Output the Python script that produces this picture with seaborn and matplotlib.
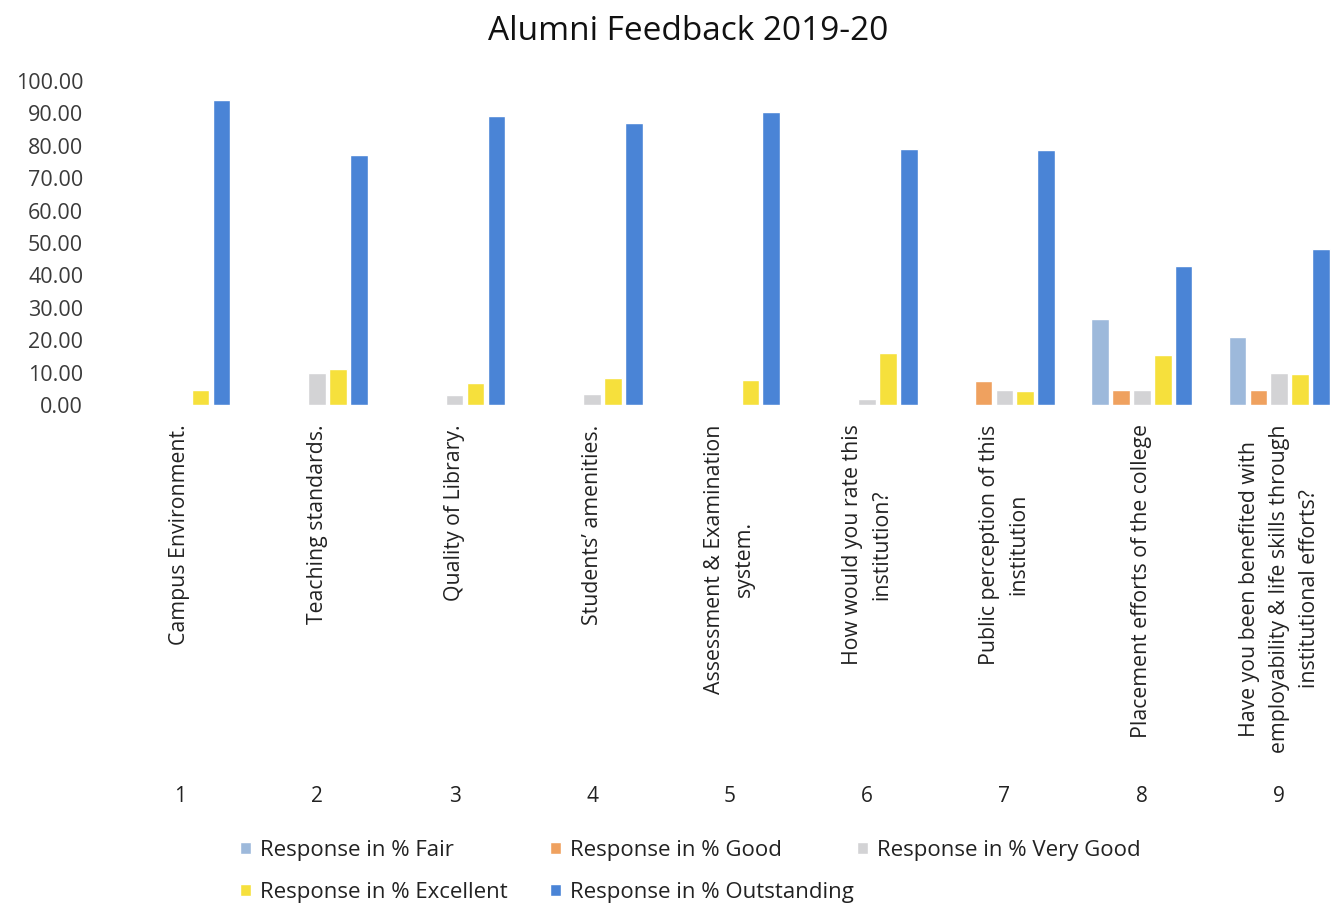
import matplotlib
matplotlib.use("Agg")
import matplotlib.pyplot as plt
import matplotlib.transforms as mtransforms
import seaborn as sns
import pandas as pd

questions = [
    "Campus Environment.",
    "Teaching standards.",
    "Quality of Library.",
    "Students\u2019 amenities.",
    "Assessment & Examination\nsystem.",
    "How would you rate this\ninstitution?",
    "Public perception of this\ninstitution",
    "Placement efforts of the college",
    "Have you been benefited with\nemployability & life skills through\ninstitutional efforts?",
]
numbers = ["1", "2", "3", "4", "5", "6", "7", "8", "9"]
series = [
    "Response in % Fair",
    "Response in % Good",
    "Response in % Very Good",
    "Response in % Excellent",
    "Response in % Outstanding",
]
fair = [0, 0, 0, 0, 0, 0, 0, 26.5, 21.0]
good = [0, 0, 0, 0, 0, 0, 7.5, 4.5, 4.5]
very_good = [0, 10.0, 3.0, 3.5, 0, 2.0, 4.5, 4.5, 10.0]
excellent = [4.5, 11.0, 6.8, 8.3, 7.7, 16.0, 4.4, 15.3, 9.6]
outstanding = [94.0, 77.3, 89.3, 87.0, 90.3, 79.0, 78.8, 43.0, 48.0]
colors = ["#9DB9DB", "#EFA15F", "#D3D3D5", "#F6E03C", "#4A84D6"]

values = [fair, good, very_good, excellent, outstanding]
rows = []
for s, vals in zip(series, values):
    for q, v in zip(numbers, vals):
        rows.append({"Question": q, "Series": s, "Value": v})
df = pd.DataFrame(rows)

sns.set_theme(style="white")
plt.rcParams["font.family"] = ["Open Sans", "DejaVu Sans"]

fig = plt.figure(figsize=(13.42, 9.07), dpi=100)
ax = fig.add_axes([111 / 1342, 1 - 405 / 907, 1237 / 1342, 324 / 907])
sns.barplot(data=df, x="Question", y="Value", hue="Series", order=numbers,
            hue_order=series, palette=colors, width=0.76, gap=0.15,
            saturation=1, ax=ax, legend=True)

ax.set_ylim(0, 100)
ax.set_xlim(-0.5, 8.5)
ax.set_yticks(range(0, 101, 10))
ax.set_yticklabels([f"{v:.2f}" for v in range(0, 101, 10)], fontsize=15.5, color="#3a3a3a")
ax.tick_params(axis="y", length=0, pad=20)
ax.tick_params(axis="x", length=0, pad=14)
ax.set_xticks(range(len(questions)))
ax.set_xticklabels(questions, rotation=90, fontsize=15.3, color="#222222",
                   ha="center", va="top", multialignment="center", linespacing=1.55)
ax.set_xlabel("")
ax.set_ylabel("")
for sp in ax.spines.values():
    sp.set_visible(False)

trans = mtransforms.blended_transform_factory(ax.transData, fig.transFigure)
for i, n in enumerate(numbers):
    ax.text(i, 1 - 797 / 907, n, transform=trans, ha="center", va="center",
            fontsize=15, color="#222222")

fig.text(0.513, 1 - 31 / 907, "Alumni Feedback 2019-20", ha="center", va="center",
         fontsize=24, color="#111111")

handles, labels = ax.get_legend_handles_labels()
ax.legend_.remove()
columns = [([0, 3], 222), ([1, 4], 532), ([2], 839)]
for idx, xpix in columns:
    fig.legend([handles[i] for i in idx], [labels[i] for i in idx],
               loc="upper left", bbox_to_anchor=(xpix / 1342, 1 - 822 / 907),
               ncol=1, frameon=False, fontsize=16, handlelength=0.5, handleheight=0.5,
               handletextpad=0.4, labelspacing=0.95, borderpad=0.3,
               labelcolor="#222222")

fig.savefig("out.png", dpi=100, facecolor="white")
